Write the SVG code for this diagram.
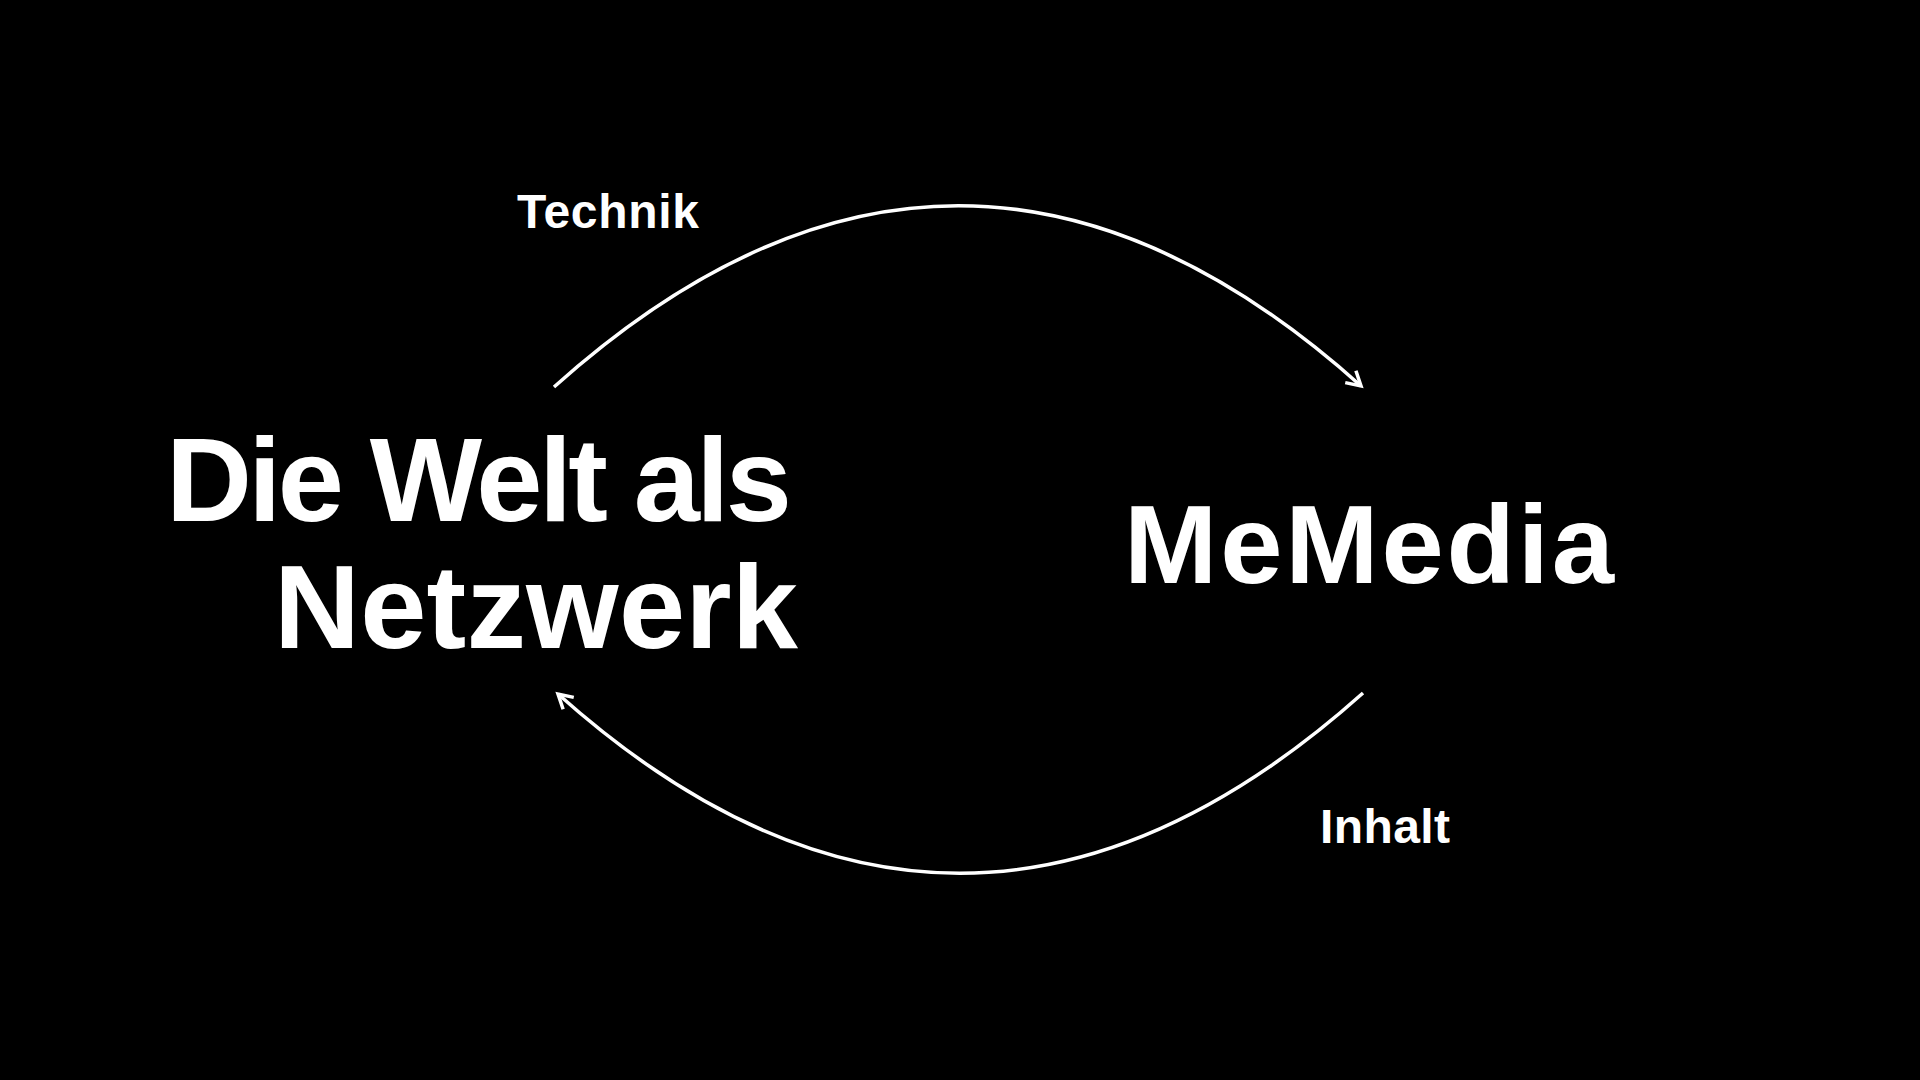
<svg xmlns="http://www.w3.org/2000/svg" width="1920" height="1080" viewBox="0 0 1920 1080">
  <style>
    .bg { fill: #000000; }
    .label { font-family: "Liberation Sans", Arial, sans-serif; font-weight: 700; fill: #ffffff; }
    .big { font-size: 119px; }
    .mid { font-size: 112px; }
    .small { font-size: 48px; }
    .conn { fill: none; stroke: #ffffff; stroke-width: 3.5; }
    .head { fill: none; stroke: #ffffff; stroke-width: 3.5; stroke-linejoin: miter; }
  </style>
  <defs>
    <marker id="arrow" markerUnits="userSpaceOnUse" markerWidth="30" markerHeight="30" viewBox="-20 -15 30 30" refX="0" refY="0" orient="auto">
      <path class="head" d="M -14 -8 L 0 0 L -14 8"/>
    </marker>
  </defs>
  <rect class="bg" x="0" y="0" width="1920" height="1080"/>
  <g id="connectors">
    <path id="edge-technik" class="conn" d="M 554 387 Q 958 25 1361 386" marker-end="url(#arrow)"/>
    <path id="edge-inhalt" class="conn" d="M 1363 693 Q 960 1053 558 694" marker-end="url(#arrow)"/>
    <text id="label-technik" class="label small" x="517" y="228" textLength="182" lengthAdjust="spacing">Technik</text>
    <text id="label-inhalt" class="label small" x="1320" y="843" textLength="130" lengthAdjust="spacing">Inhalt</text>
  </g>
  <g id="node-welt">
    <text class="label big" x="166" y="521" textLength="626" lengthAdjust="spacing">Die Welt als</text>
    <text class="label big" x="274" y="648" textLength="524" lengthAdjust="spacing">Netzwerk</text>
  </g>
  <g id="node-memedia">
    <text class="label mid" x="1124" y="583" textLength="490" lengthAdjust="spacing">MeMedia</text>
  </g>
</svg>
